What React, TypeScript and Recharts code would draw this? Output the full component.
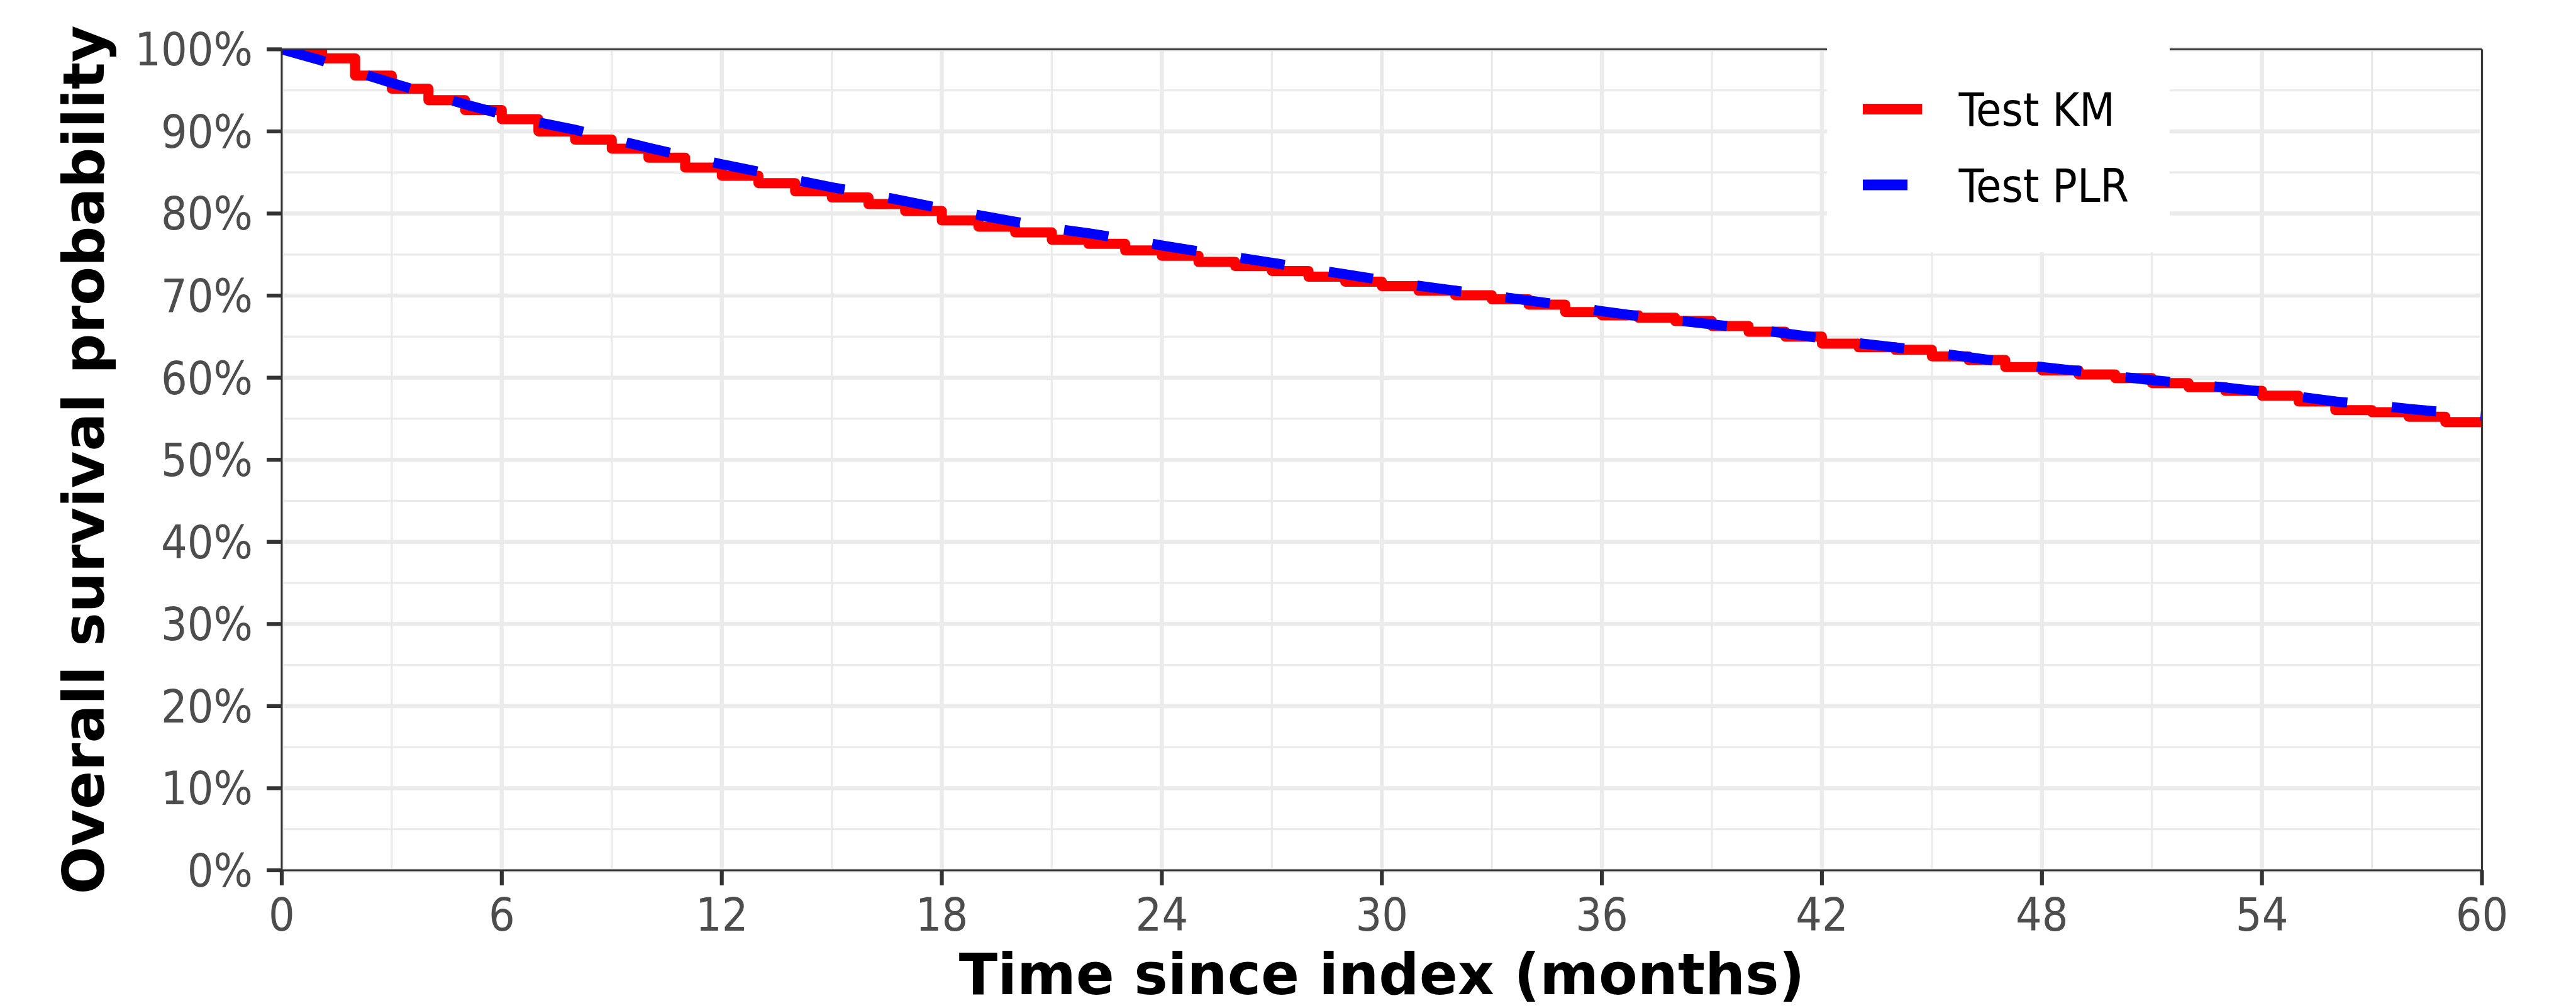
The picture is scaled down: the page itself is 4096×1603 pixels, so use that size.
import React from 'react';
import { LineChart, Line, XAxis, YAxis, CartesianGrid, Legend, ReferenceLine, Label } from 'recharts';

// ---------------- data ----------------
const KM_TIMES = [0, 1.1, 2, 3, 4, 5, 6, 7, 8, 9, 10, 11, 12, 13, 14, 15, 16, 17, 18, 19, 20, 21, 22, 23, 24, 25, 26, 27, 28, 29, 30, 31, 32, 33, 34, 35, 36, 37, 38, 39, 40, 41, 42, 43, 44, 45, 46, 47, 48, 49, 50, 51, 52, 53, 54, 55, 56, 57, 58, 59, 60];
const KM_SURVIVAL = [100, 98.9, 96.8, 95.2, 93.8, 92.6, 91.5, 90.0, 89.0, 87.9, 86.8, 85.6, 84.6, 83.7, 82.7, 81.95, 81.15, 80.3, 79.15, 78.4, 77.7, 76.8, 76.3, 75.5, 74.85, 74.1, 73.6, 73.0, 72.3, 71.7, 71.15, 70.6, 70.05, 69.55, 68.9, 68.0, 67.6, 67.3, 66.9, 66.3, 65.6, 65.0, 64.15, 63.7, 63.4, 62.6, 62.15, 61.3, 60.9, 60.4, 59.95, 59.35, 58.85, 58.4, 57.8, 57.1, 56.05, 55.8, 55.25, 54.6, 54.6];

const PLR_TIMES = [0, 1, 2, 3, 4, 5, 6, 7, 8, 9, 10, 11, 12, 13, 14, 15, 16, 17, 18, 19, 20, 21, 22, 23, 24, 25, 26, 27, 28, 29, 30, 31, 32, 33, 34, 35, 36, 37, 38, 39, 40, 41, 42, 43, 44, 45, 46, 47, 48, 49, 50, 51, 52, 53, 54, 55, 56, 57, 58, 59, 60];
const PLR_SURVIVAL = [100, 98.75, 97.3, 95.9, 94.6, 93.3, 92.1, 91.1, 90.2, 89.1, 88.0, 87.0, 86.0, 85.1, 84.1, 83.2, 82.4, 81.5, 80.6, 79.8, 79.0, 78.2, 77.6, 76.9, 76.1, 75.4, 74.7, 74.0, 73.3, 72.6, 71.9, 71.2, 70.6, 70.0, 69.4, 68.8, 68.1, 67.5, 67.0, 66.5, 66.0, 65.4, 64.8, 64.2, 63.7, 63.1, 62.5, 61.9, 61.3, 60.8, 60.2, 59.7, 59.3, 58.8, 58.3, 57.7, 57.1, 56.7, 56.2, 55.8, 55.4];

const X_TICKS = [0, 6, 12, 18, 24, 30, 36, 42, 48, 54, 60];
const X_MINOR = [3, 9, 15, 21, 27, 33, 39, 45, 51, 57];
const Y_TICKS = [0, 10, 20, 30, 40, 50, 60, 70, 80, 90, 100];
const Y_MINOR = [5, 15, 25, 35, 45, 55, 65, 75, 85, 95];

const SERIES_NAMES = ['Test KM', 'Test PLR'];
const X_TITLE = 'Time since index (months)';
const Y_TITLE = 'Overall survival probability';

// ---------------- derived tables ----------------
const kmData = KM_TIMES.map((t, i) => ({ t, s: KM_SURVIVAL[i] }));
const plrData = PLR_TIMES.map((t, i) => ({ t, s: PLR_SURVIVAL[i] }));

// ---------------- styles ----------------
const W = 4096;
const H = 1603;
const FONT_REG = "'DejaVu Sans Condensed', 'DejaVu Sans', sans-serif";
const FONT_BOLD = "'DejaVu Sans', sans-serif";
const TICK_FONT = 73;
const TITLE_FONT = 90;
const AXIS_COLOR = '#333333';
const GRID_COLOR = '#EBEBEB';
const TICK_TEXT = '#4D4D4D';
const KM_COLOR = '#FF0000';
const PLR_COLOR = '#0000FF';
const LINE_W = 16;
const DASH = '71 71';

const SERIES_STYLES = [
  { color: KM_COLOR, dash: undefined as string | undefined },
  { color: PLR_COLOR, dash: DASH },
];

const LEGEND_BOX = { left: 2904.6, top: 67.3, width: 545, height: 334 };

const LegendBox = () => {
  const rowY = [106.4, 226.9];
  return (
    <svg width={LEGEND_BOX.width} height={LEGEND_BOX.height} style={{ display: 'block' }}>
      <rect x={0} y={0} width={LEGEND_BOX.width} height={LEGEND_BOX.height} fill="#FFFFFF" />
      {SERIES_NAMES.map((name, i) => (
        <g key={name}>
          <line
            x1={57}
            x2={151.4}
            y1={rowY[i]}
            y2={rowY[i]}
            stroke={SERIES_STYLES[i].color}
            strokeWidth={LINE_W + 1}
            strokeDasharray={SERIES_STYLES[i].dash}
          />
          <text
            x={209.4}
            y={rowY[i] + TICK_FONT * 0.3645}
            fontFamily={FONT_REG}
            fontSize={TICK_FONT}
            fill="#000000"
          >
            {name}
          </text>
        </g>
      ))}
    </svg>
  );
};

const XTitle = (props: any) => {
  const vb = props.viewBox || { x: 448, y: 1384, width: 3498.5, height: 219 };
  return (
    <text
      x={vb.x + vb.width / 2}
      y={vb.y + 197.3}
      textAnchor="middle"
      fontFamily={FONT_BOLD}
      fontWeight="bold"
      fontSize={TITLE_FONT}
      fill="#000000"
    >
      {X_TITLE}
    </text>
  );
};

const YTitle = (props: any) => {
  const vb = props.viewBox || { x: 0, y: 78.4, width: 448, height: 1305.7 };
  const bx = vb.x + 165.4;
  const cy = vb.y + vb.height / 2;
  return (
    <text
      x={bx}
      y={cy}
      transform={`rotate(-90 ${bx} ${cy})`}
      textAnchor="middle"
      fontFamily={FONT_BOLD}
      fontWeight="bold"
      fontSize={TITLE_FONT}
      fill="#000000"
    >
      {Y_TITLE}
    </text>
  );
};

export default function App() {
  return (
    <div style={{ position: 'absolute', left: 0, top: 0, width: W, height: H, background: '#FFFFFF' }}>
      <LineChart width={W} height={H} margin={{ top: 78.4, right: 149.5, bottom: 0, left: 0 }}>
        <CartesianGrid
          horizontalValues={Y_MINOR}
          verticalValues={X_MINOR}
          stroke={GRID_COLOR}
          strokeWidth={3.3}
        />
        <CartesianGrid
          horizontalValues={Y_TICKS}
          verticalValues={X_TICKS}
          stroke={GRID_COLOR}
          strokeWidth={6.5}
        />
        <XAxis
          dataKey="t"
          type="number"
          domain={[0, 60]}
          ticks={X_TICKS}
          interval={0}
          allowDataOverflow
          height={219}
          tickSize={24}
          tickMargin={20}
          axisLine={{ stroke: AXIS_COLOR, strokeWidth: 2.9 }}
          tickLine={{ stroke: AXIS_COLOR, strokeWidth: 6.2 }}
          tick={{ fill: TICK_TEXT, fontSize: TICK_FONT, fontFamily: FONT_REG }}
        >
          <Label content={<XTitle />} />
        </XAxis>
        <YAxis
          type="number"
          domain={[0, 100]}
          ticks={Y_TICKS}
          interval={0}
          allowDataOverflow
          width={448}
          tickSize={24}
          tickMargin={22}
          tickFormatter={(v: number) => `${v}%`}
          axisLine={{ stroke: AXIS_COLOR, strokeWidth: 2.9 }}
          tickLine={{ stroke: AXIS_COLOR, strokeWidth: 6.2 }}
          tick={{ fill: TICK_TEXT, fontSize: TICK_FONT, fontFamily: FONT_REG }}
        >
          <Label content={<YTitle />} />
        </YAxis>
        <Line
          data={kmData}
          dataKey="s"
          name={SERIES_NAMES[0]}
          type="stepAfter"
          stroke={KM_COLOR}
          strokeWidth={LINE_W}
          strokeLinejoin="round"
          dot={false}
          activeDot={false}
          isAnimationActive={false}
        />
        <Line
          data={plrData}
          dataKey="s"
          name={SERIES_NAMES[1]}
          type="linear"
          stroke={PLR_COLOR}
          strokeWidth={LINE_W}
          strokeDasharray={DASH}
          dot={false}
          activeDot={false}
          isAnimationActive={false}
        />
        <ReferenceLine y={100} stroke={AXIS_COLOR} strokeWidth={2.9} />
        <ReferenceLine x={60} stroke={AXIS_COLOR} strokeWidth={2.9} />
        <Legend
          layout="vertical"
          align="center"
          verticalAlign="middle"
          wrapperStyle={{ left: LEGEND_BOX.left, top: LEGEND_BOX.top, width: LEGEND_BOX.width, height: LEGEND_BOX.height }}
          content={<LegendBox />}
        />
      </LineChart>
    </div>
  );
}
